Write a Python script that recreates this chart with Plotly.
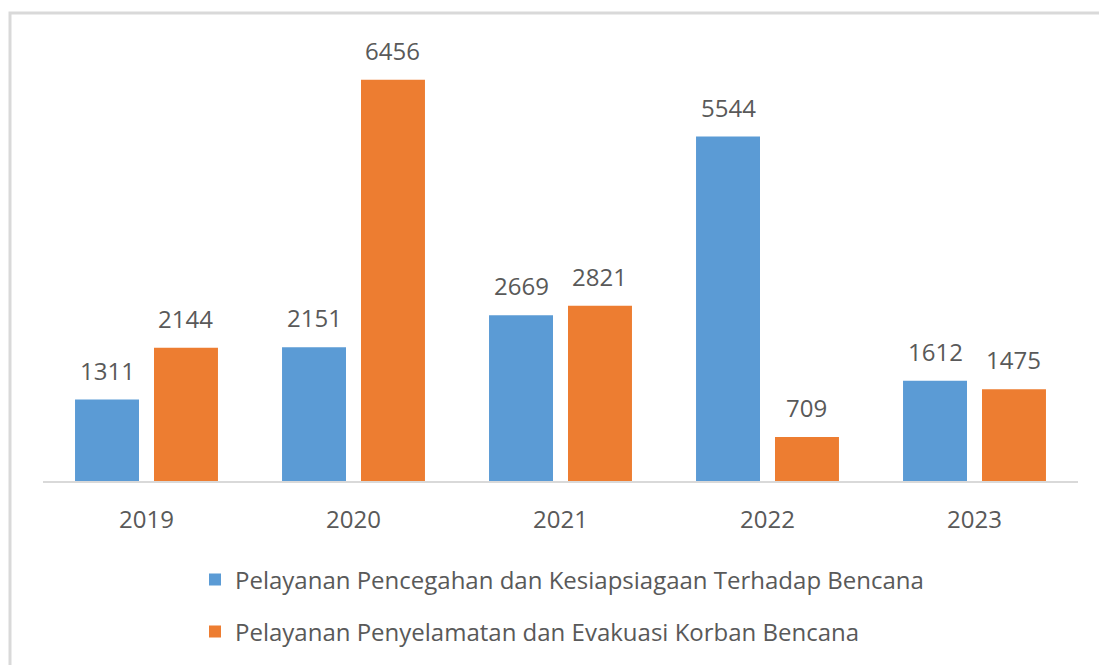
import plotly.graph_objects as go

# Jumlah layanan per tahun
years = ["2019", "2020", "2021", "2022", "2023"]
pencegahan = [1311, 2151, 2669, 5544, 1612]
penyelamatan = [2144, 6456, 2821, 709, 1475]

series_names = [
    "Pelayanan Pencegahan dan Kesiapsiagaan Terhadap Bencana",
    "Pelayanan Penyelamatan dan Evakuasi Korban Bencana",
]
series_colors = ["#5b9bd5", "#ed7d31"]

W, H = 1099, 665
M_L, M_R, M_T, M_B = 43, 21, 30, 183
PW, PH = W - M_L - M_R, H - M_T - M_B

FONT = "Open Sans"
TXT = "#595959"

fig = go.Figure()
fig.add_trace(go.Bar(x=years, y=pencegahan, name=series_names[0],
                     marker=dict(color=series_colors[0], line=dict(width=0)),
                     legend="legend"))
fig.add_trace(go.Bar(x=years, y=penyelamatan, name=series_names[1],
                     marker=dict(color=series_colors[1], line=dict(width=0)),
                     legend="legend2"))

# value labels above each bar (category axis: annotations use the category index)
slot_px = PW / len(years) * (1 - 0.237) / 2
for vals, sign in ((pencegahan, -1), (penyelamatan, 1)):
    for i, v in enumerate(vals):
        fig.add_annotation(x=i, y=v, text=str(v), showarrow=False,
                           xshift=sign * slot_px / 2, yanchor="bottom", yshift=11,
                           font=dict(family=FONT, size=24, color=TXT))

def px_to_paper_x(px):
    return (px - M_L) / PW

def px_to_paper_y(py):
    return 1 - (py - M_T) / PH

# outer chart frame
fig.add_shape(type="rect", xref="paper", yref="paper",
              x0=px_to_paper_x(10), x1=px_to_paper_x(1110),
              y0=px_to_paper_y(680), y1=px_to_paper_y(13),
              line=dict(color="#d9d9d9", width=3), layer="below")

legend_common = dict(orientation="v", xanchor="left", yanchor="middle",
                     bgcolor="rgba(0,0,0,0)",
                     font=dict(family=FONT, size=24, color=TXT))

fig.update_layout(
    width=W, height=H,
    margin=dict(l=M_L, r=M_R, t=M_T, b=M_B),
    paper_bgcolor="white", plot_bgcolor="white",
    barmode="group", bargap=0.237, bargroupgap=0.19,
    showlegend=True,
    legend=dict(x=px_to_paper_x(195), y=px_to_paper_y(580), **legend_common),
    legend2=dict(x=px_to_paper_x(195), y=px_to_paper_y(632), **legend_common),
    xaxis=dict(type="category", range=[-0.5, len(years) - 0.5],
               showline=True, linecolor="#d9d9d9", linewidth=2,
               ticks="", showgrid=False, ticklabelstandoff=16,
               tickfont=dict(family=FONT, size=24, color=TXT)),
    yaxis=dict(range=[0, (PH) / 0.06227], visible=False, showgrid=False),
)

fig.write_html("out.html")
